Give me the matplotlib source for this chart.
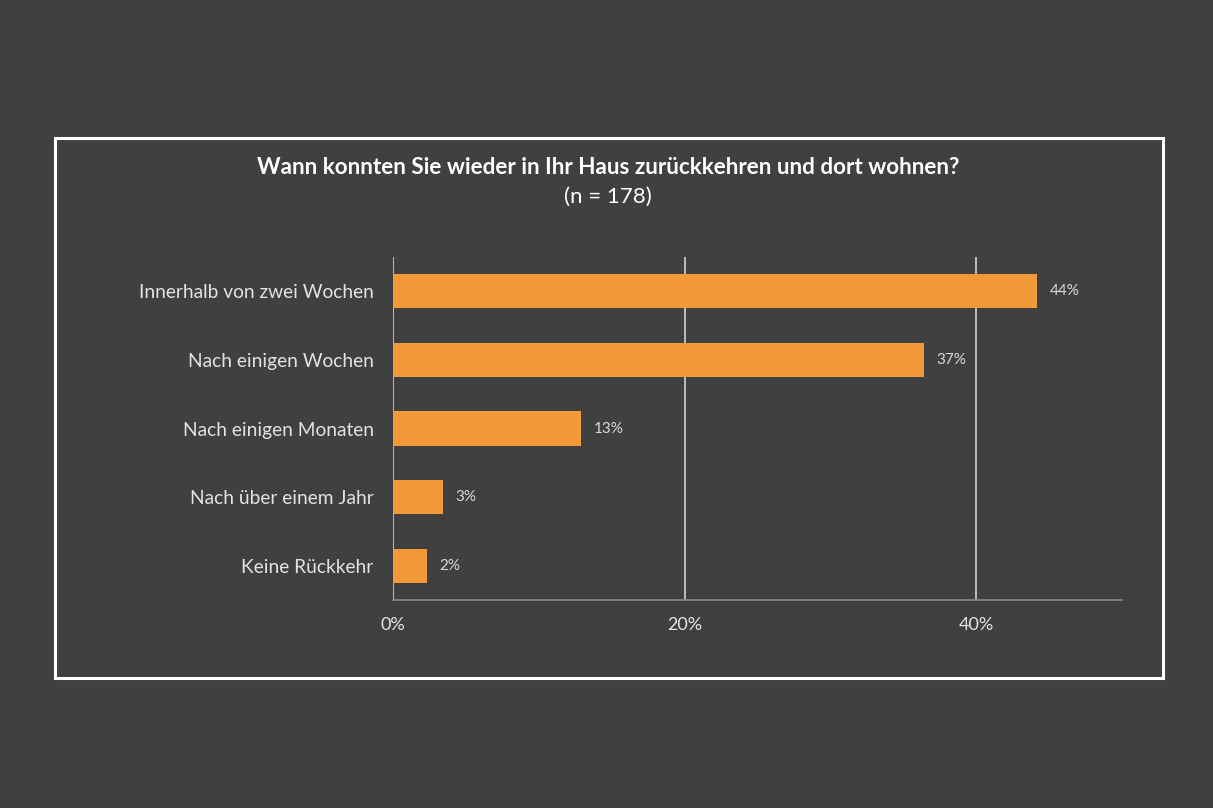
import matplotlib.pyplot as plt
from matplotlib.patches import Rectangle

# Data
categories = ['Innerhalb von zwei Wochen', 'Nach einigen Wochen', 'Nach einigen Monaten',
              'Nach über einem Jahr', 'Keine Rückkehr']
values = [44.2, 36.4, 12.9, 3.4, 2.3]
labels = ['44%', '37%', '13%', '3%', '2%']
ticks = [0, 20, 40]

bg = '#404040'
orange = '#F29A38'
plt.rcParams['font.family'] = ['Lato', 'DejaVu Sans']

fig = plt.figure(figsize=(12.13, 8.08), dpi=100, facecolor=bg)
ax = fig.add_axes([0.324, 0.2574, 0.601, 0.4245], facecolor=bg)

# white frame around the chart
fig.patches.append(Rectangle((55/1213, 1 - 678/808), (1163-55)/1213, (678-138)/808,
                             transform=fig.transFigure, fill=False,
                             edgecolor='white', linewidth=2.2))

y = list(range(len(categories)))
ax.barh(y, values, height=0.5, color=orange, zorder=3)
for yi, v, lab in zip(y, values, labels):
    ax.annotate(lab, (v, yi), xytext=(9, 0), textcoords='offset points',
                va='center', ha='left', color='#d9d9d9', fontsize=11)

ax.set_xlim(0, 50)
ax.set_ylim(4.5, -0.5)
ax.set_yticks(y)
ax.set_yticklabels(categories, color='#e3e3e3', fontsize=13.8)
ax.set_xticks(ticks)
ax.set_xticklabels([f'{t}%' for t in ticks], color='#e6e6e6', fontsize=13)
ax.tick_params(axis='both', length=0)
ax.tick_params(axis='y', pad=14)
ax.tick_params(axis='x', pad=12)

for t in ticks:
    ax.axvline(t, color='#c8c8c8', linewidth=1.3, zorder=1)
for s in ['top', 'right', 'left']:
    ax.spines[s].set_visible(False)
ax.spines['bottom'].set_color('#8a8a8a')
ax.spines['bottom'].set_linewidth(1.2)

fig.text(0.5015, 1 - 167/808, 'Wann konnten Sie wieder in Ihr Haus zurückkehren und dort wohnen?',
         ha='center', va='center', color='white', fontsize=16.2, fontweight='bold')
fig.text(0.5015, 1 - 197/808, '(n = 178)', ha='center', va='center', color='white', fontsize=16)

fig.savefig('out.png', dpi=100, facecolor=bg)
